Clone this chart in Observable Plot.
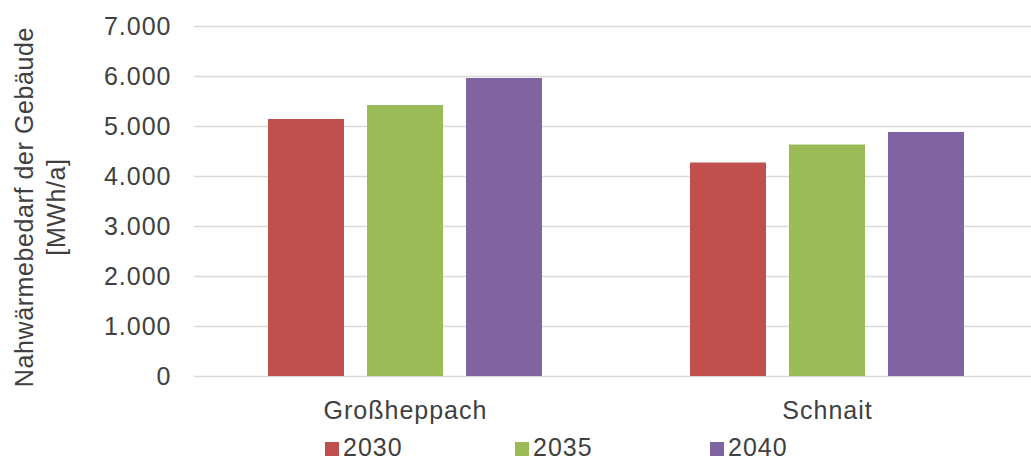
<!DOCTYPE html>
<html>
<head>
<meta charset="utf-8">
<script src="https://cdn.jsdelivr.net/npm/d3@7"></script>
<script src="https://cdn.jsdelivr.net/npm/@observablehq/plot@0.6"></script>
<style>
  html, body { margin: 0; padding: 0; background: #fff; }
  #wrap { position: relative; width: 1031px; height: 459px; font-family: "Liberation Sans", Arial, sans-serif; color: #404040; }
  #legend { position: absolute; left: 0; top: 435px; height: 24px; width: 1031px; font-size: 25px; letter-spacing: 1px; }
  .item { position: absolute; top: 0; height: 24px; line-height: 24px; white-space: nowrap; }
  .sw { display: inline-block; width: 14px; height: 14px; margin-right: 4px; vertical-align: 0px; }
</style>
</head>
<body>
<div id="wrap"><div id="chart"></div><div id="legend"></div></div>
<script>
const sites = ["Großheppach", "Schnait"];
const years = ["2030", "2035", "2040"];
const valuesGrossheppach = [5140, 5420, 5960];
const valuesSchnait = [4270, 4630, 4880];
const yTicks = [0, 1000, 2000, 3000, 4000, 5000, 6000, 7000];
const colors = ["#C0504D", "#9BBB59", "#8064A2"];
const yTitle = ["Nahwärmebedarf der Gebäude", "[MWh/a]"];

const seriesBySite = [valuesGrossheppach, valuesSchnait];
const data = [];
sites.forEach((s, i) => years.forEach((y, j) => data.push({site: s, year: y, value: seriesBySite[i][j]})));

const de = d3.formatLocale({decimal: ",", thousands: ".", grouping: [3], currency: ["", " €"]});
const fmt = de.format(",");

const chart = Plot.plot({
  width: 1031,
  height: 430,
  marginLeft: 193,
  marginRight: -7,
  marginTop: 26,
  marginBottom: 54,
  style: {fontFamily: "'Liberation Sans', Arial, sans-serif", fontSize: "25px", color: "#404040", background: "white", letterSpacing: "1px", overflow: "visible"},
  facet: {data, x: "site"},
  fx: {domain: sites, padding: 0, label: null, tickSize: 0, tickPadding: 25},
  x: {domain: years, paddingInner: 0.23, paddingOuter: 0.7275, axis: null},
  y: {domain: [0, 7000], ticks: yTicks, tickFormat: fmt, tickSize: 0, tickPadding: 23, label: null},
  color: {domain: years, range: colors},
  marks: [
    Plot.ruleY(yTicks, {stroke: "#d9d9d9", strokeWidth: 1.5}),
    Plot.barY(data, {x: "year", y: "value", fill: "year"})
  ]
});
document.getElementById("chart").appendChild(chart);

// y-axis title (two lines, rotated)
const svg = d3.select(chart.tagName.toLowerCase() === "svg" ? chart : chart.querySelector("svg"));
const t = svg.append("text")
  .attr("transform", "translate(33,207) rotate(-90)")
  .attr("text-anchor", "middle")
  .attr("fill", "#404040")
  .style("font-size", "25px")
  .style("letter-spacing", "0.6px");
yTitle.forEach((line, i) => t.append("tspan").attr("x", 0).attr("dy", i === 0 ? 0 : 32).text(line));

// legend
const legendX = [325, 515, 710];
const legend = document.getElementById("legend");
years.forEach((y, i) => {
  const it = document.createElement("div");
  it.className = "item";
  it.style.left = legendX[i] + "px";
  it.innerHTML = `<span class="sw" style="background:${colors[i]}"></span>${y}`;
  legend.appendChild(it);
});
</script>
</body>
</html>
